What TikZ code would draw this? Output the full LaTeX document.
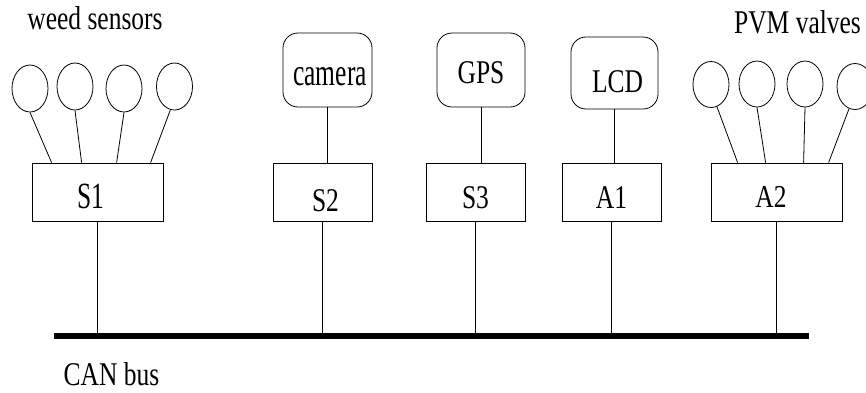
\documentclass[tikz,border=0pt]{standalone}
\usepackage{graphicx}
\usepackage{fontspec}
\setmainfont{Liberation Serif}
\usetikzlibrary{shapes.geometric}
\newcommand{\tall}[2][1.3]{\scalebox{1}[#1]{#2}}
\newcommand{\inbox}[2][16pt]{\raisebox{-#1}[0pt][0pt]{#2}}

\begin{document}
\begin{tikzpicture}[x=1pt,y=-1pt,font=\fontsize{25.5}{30}\selectfont,line width=0.8pt,
  ecu/.style={draw,minimum height=58pt,inner sep=0pt},
  dev/.style={draw,rounded corners=15pt,minimum height=74pt,inner sep=0pt},
  bulb/.style={draw,ellipse,minimum width=36pt,minimum height=47pt,inner sep=0pt}]
\clip (0,0) rectangle (866,392);
% nodes on the bus
\node[ecu,minimum width=131pt] (s1) at (97.5,192) {\inbox{\hspace*{-14pt}\tall[1.45]{S1}}};
\node[ecu,minimum width=99pt] (s2) at (322.5,192) {\inbox[19pt]{\hspace*{6pt}\tall{S2}}};
\node[ecu,minimum width=99pt] (s3) at (475.5,192) {\inbox{\tall{S3}}};
\node[ecu,minimum width=99pt] (a1) at (611.5,192) {\inbox{\tall{A1}}};
\node[ecu,minimum width=131pt] (a2) at (776.5,192) {\inbox[15pt]{\hspace*{-11pt}\tall[1.25]{A2}}};
% devices
\node[dev,minimum width=89pt] (cam) at (327.5,70) {\inbox[15pt]{\hspace*{5pt}\tall[1.5]{camera}}};
\node[dev,minimum width=88pt] (gps) at (481,70) {\inbox[13pt]{\tall{GPS}}};
\node[dev,minimum width=87pt,minimum height=72pt] (lcd) at (614.5,73) {\inbox[19pt]{\hspace*{6pt}\tall{LCD}}};
\foreach \x/\y [count=\i] in {30/88.5,75/86.5,124/88.5,174.5/86.5} \node[bulb] (w\i) at (\x,\y) {};
\foreach \x/\y [count=\i] in {711/84.5,757/84,805/84,855/86.5} \node[bulb,minimum height=46pt] (v\i) at (\x,\y) {};
% wires
\foreach \i/\a/\d in {1/south/20,2/south/50,3/south/85,4/-100/119} \draw (w\i.\a) -- ([xshift=\d pt]s1.north west);
\foreach \i/\a/\d in {1/-75/27,2/south/55,3/south/93,4/-105/118} \draw (v\i.\a) -- ([xshift=\d pt]a2.north west);
\draw (cam.south) -- (cam.south |- s2.north);
\draw (gps.south) -- (gps.south |- s3.north);
\draw (lcd.south) -- (lcd.south |- a1.north);
% bus
\coordinate (busL) at (54,336);
\coordinate (busR) at (809,336);
\foreach \n in {s1,s2,s3,a1,a2} \draw (\n.south) -- (\n.south |- busL);
\draw[line width=5.5pt] (busL) -- (busR);
% captions
\node[anchor=base] (weed) at (95,29) {\tall{weed sensors}};
\node[anchor=base] (pvm) at (797.5,33) {\tall{PVM valves}};
\node[anchor=base] (can) at (111.5,385) {\tall{CAN bus}};
\end{tikzpicture}
\end{document}
